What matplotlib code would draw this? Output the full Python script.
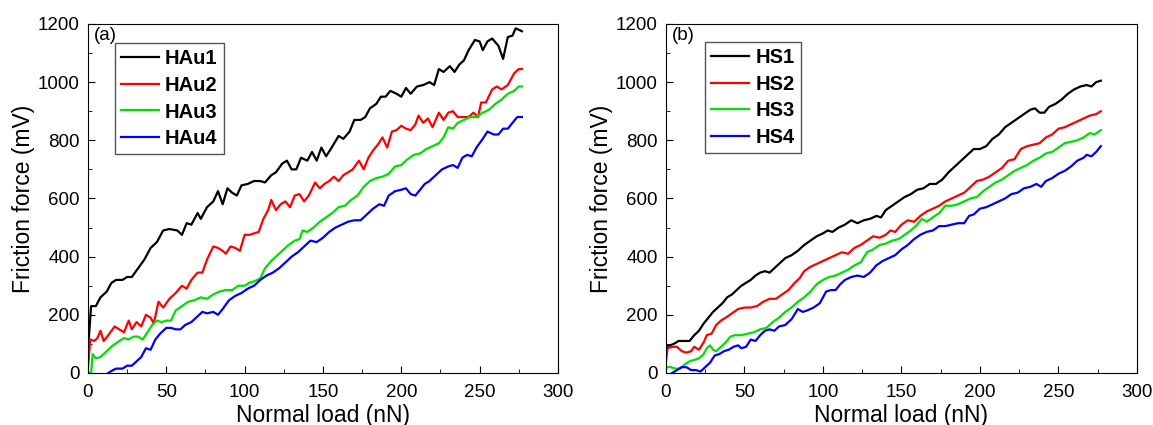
import matplotlib
matplotlib.use('Agg')
import matplotlib.pyplot as plt
from matplotlib.ticker import MultipleLocator

plt.rcParams['font.family'] = ['Liberation Sans', 'DejaVu Sans']

# (a) HAu samples
hau1_x = [0, 2, 5, 8, 12, 15, 18, 22, 25, 28, 32, 36, 40, 44, 48, 52, 57, 60, 63, 66, 70, 72, 76, 80, 83, 86, 89, 92, 95, 98,
          102, 106, 110, 113, 117, 120, 124, 127, 130, 133, 136, 140, 143, 146, 149, 152, 155, 160, 163, 167, 170, 174, 177,
          180, 184, 187, 190, 193, 197, 200, 203, 206, 210, 214, 218, 221, 224, 227, 231, 234, 237, 240, 243, 247, 250, 252,
          255, 258, 262, 265, 268, 271, 273, 277]
hau1_y = [80, 230, 230, 260, 280, 310, 320, 320, 330, 330, 360, 390, 430, 450, 490, 495, 490, 475, 515, 510, 550, 530, 570, 590,
          625, 580, 635, 620, 610, 645, 650, 660, 660, 655, 680, 690, 720, 730, 700, 700, 740, 730, 760, 730, 775, 745, 770,
          815, 805, 830, 870, 870, 880, 910, 925, 950, 950, 970, 960, 950, 980, 960, 985, 990, 1000, 990, 1045, 1035, 1055,
          1035, 1060, 1075, 1110, 1145, 1140, 1110, 1140, 1150, 1125, 1080, 1155, 1160, 1185, 1175]

hau2_x = [0, 1.5, 4, 6, 8, 10, 13, 17, 20, 23, 26, 28, 31, 34, 37, 40, 42, 45, 48, 52, 56, 60, 63, 66, 70, 73, 76, 80, 83, 86,
          88, 91, 94, 97, 100, 103, 106, 109, 112, 115, 117, 120, 123, 126, 129, 132, 135, 138, 141, 145, 148, 151, 154, 157,
          160, 163, 166, 169, 173, 176, 179, 182, 185, 188, 191, 194, 197, 200, 203, 206, 209, 211, 214, 217, 220, 224, 227,
          230, 233, 236, 240, 243, 246, 249, 251, 254, 258, 261, 264, 268, 272, 275, 277]
hau2_y = [20, 115, 110, 120, 145, 110, 130, 160, 150, 140, 180, 150, 175, 160, 200, 190, 170, 245, 225, 255, 275, 300, 290, 320,
          345, 345, 390, 435, 430, 420, 410, 435, 430, 420, 475, 475, 480, 485, 530, 560, 595, 560, 580, 590, 570, 610, 615,
          590, 610, 655, 635, 650, 660, 675, 660, 680, 690, 700, 730, 700, 740, 765, 785, 810, 775, 830, 835, 850, 840, 835,
          855, 885, 860, 875, 845, 895, 870, 895, 900, 880, 880, 880, 895, 880, 930, 930, 975, 985, 975, 990, 1030, 1045, 1045]

hau3_x = [1, 2, 3, 5, 8, 12, 16, 20, 23, 26, 29, 32, 35, 38, 41, 44, 47, 50, 53, 56, 60, 64, 68, 72, 76, 80, 84, 88, 92, 96,
          100, 103, 106, 110, 113, 117, 120, 124, 128, 132, 135, 137, 140, 144, 148, 152, 156, 160, 164, 168, 172, 176, 180,
          184, 188, 192, 196, 200, 204, 208, 212, 216, 220, 224, 227, 230, 233, 236, 240, 244, 248, 252, 256, 260, 264, 268,
          272, 275, 277]
hau3_y = [0, 0, 65, 50, 55, 75, 95, 110, 120, 115, 125, 125, 115, 140, 165, 180, 175, 180, 180, 215, 230, 245, 250, 260, 255,
          270, 280, 285, 285, 300, 300, 310, 315, 325, 360, 385, 400, 420, 440, 455, 460, 490, 485, 500, 520, 535, 550, 570,
          575, 595, 610, 640, 660, 670, 675, 685, 710, 715, 735, 750, 755, 770, 780, 790, 810, 845, 840, 860, 870, 880, 880,
          895, 905, 925, 940, 960, 970, 985, 985]

hau4_x = [13, 16, 18, 22, 25, 28, 31, 34, 37, 40, 43, 46, 50, 53, 56, 59, 62, 66, 70, 73, 76, 80, 83, 86, 90, 94, 98, 102, 106,
          110, 114, 118, 122, 126, 130, 134, 138, 142, 146, 150, 154, 158, 162, 166, 170, 174, 178, 182, 186, 189, 192, 196,
          200, 203, 206, 209, 212, 215, 218, 222, 226, 230, 233, 236, 239, 242, 245, 248, 252, 255, 259, 262, 265, 268, 271,
          274, 277]
hau4_y = [0, 10, 15, 15, 25, 25, 40, 55, 85, 80, 115, 135, 155, 155, 150, 150, 165, 175, 195, 210, 205, 210, 200, 220, 250, 265,
          275, 290, 300, 320, 335, 345, 360, 380, 400, 415, 435, 455, 450, 465, 485, 500, 510, 520, 525, 525, 545, 565, 580,
          575, 610, 625, 630, 635, 615, 610, 630, 650, 660, 680, 700, 710, 715, 705, 740, 750, 745, 775, 805, 830, 820, 820,
          840, 840, 860, 880, 880]

# (b) HS samples
hs1_x = [0, 5, 8, 12, 15, 18, 21, 24, 27, 30, 33, 36, 39, 42, 45, 48, 51, 54, 57, 60, 63, 66, 69, 72, 76, 80, 84, 88, 92, 96,
         100, 103, 106, 110, 114, 118, 122, 126, 130, 134, 137, 140, 144, 148, 152, 156, 160, 164, 168, 172, 176, 180, 184,
         188, 192, 196, 200, 204, 208, 212, 216, 220, 224, 228, 232, 235, 238, 241, 244, 248, 252, 256, 260, 264, 268, 271,
         274, 277]
hs1_y = [90, 100, 110, 110, 110, 130, 145, 170, 190, 210, 225, 240, 260, 270, 285, 300, 310, 320, 335, 345, 350, 345, 360, 375,
         395, 405, 420, 440, 455, 470, 480, 490, 485, 500, 510, 525, 515, 525, 530, 540, 535, 560, 575, 590, 605, 615, 630,
         635, 650, 650, 665, 690, 710, 730, 750, 770, 770, 780, 805, 820, 845, 860, 875, 890, 905, 910, 895, 895, 915, 925,
         940, 960, 975, 985, 990, 985, 1000, 1005]

hs2_x = [0, 1, 4, 7, 10, 13, 16, 18, 21, 24, 26, 29, 32, 35, 38, 42, 46, 50, 54, 58, 62, 66, 70, 74, 78, 82, 85, 88, 92, 96,
         100, 104, 108, 112, 116, 120, 124, 128, 132, 136, 140, 143, 146, 150, 154, 158, 162, 166, 170, 174, 178, 182, 186,
         190, 194, 198, 202, 206, 210, 214, 218, 222, 226, 230, 234, 238, 242, 246, 250, 254, 258, 262, 266, 270, 274, 277]
hs2_y = [40, 85, 90, 90, 75, 70, 75, 90, 80, 105, 130, 135, 165, 180, 190, 205, 220, 225, 225, 230, 245, 255, 255, 270, 285,
         310, 325, 350, 365, 375, 385, 395, 405, 415, 410, 430, 440, 455, 470, 465, 475, 490, 485, 510, 525, 520, 540, 555,
         565, 575, 590, 600, 610, 620, 640, 660, 665, 675, 690, 705, 730, 735, 770, 780, 785, 790, 810, 820, 840, 845, 855,
         865, 875, 885, 890, 900]

hs3_x = [0, 3, 6, 9, 12, 15, 18, 21, 24, 26, 28, 30, 32, 35, 38, 41, 44, 48, 52, 56, 60, 64, 68, 72, 76, 80, 84, 88, 92, 96,
         100, 104, 108, 112, 116, 120, 124, 128, 132, 136, 140, 144, 148, 152, 156, 160, 163, 166, 170, 174, 178, 182, 186,
         190, 194, 198, 202, 206, 210, 214, 218, 222, 226, 230, 234, 238, 242, 246, 250, 254, 258, 262, 266, 270, 273, 277]
hs3_y = [20, 20, 15, 15, 30, 40, 45, 50, 65, 85, 95, 80, 75, 90, 105, 125, 130, 130, 135, 140, 150, 155, 175, 190, 210, 225,
         245, 260, 280, 305, 320, 330, 335, 345, 355, 370, 380, 415, 425, 440, 445, 455, 460, 475, 490, 510, 530, 520, 535,
         550, 575, 575, 580, 590, 600, 605, 625, 640, 655, 665, 680, 695, 705, 715, 730, 740, 755, 760, 775, 790, 795, 800,
         810, 825, 820, 835]

hs4_x = [4, 7, 10, 13, 16, 19, 22, 25, 28, 31, 34, 37, 40, 43, 46, 48, 51, 54, 57, 60, 63, 66, 69, 72, 76, 80, 84, 87, 90, 94,
         98, 102, 105, 108, 111, 114, 118, 122, 126, 130, 134, 138, 142, 146, 150, 154, 158, 162, 166, 170, 174, 178, 182,
         186, 190, 193, 196, 200, 204, 208, 212, 216, 220, 224, 228, 232, 236, 239, 242, 246, 250, 254, 258, 262, 266, 268,
         271, 274, 277]
hs4_y = [0, 10, 20, 20, 10, 10, 5, 20, 35, 60, 65, 75, 80, 90, 95, 85, 90, 115, 110, 130, 145, 150, 145, 160, 165, 185, 220,
         210, 215, 225, 240, 280, 285, 285, 305, 320, 330, 335, 330, 345, 370, 385, 395, 405, 425, 440, 460, 475, 485, 490,
         505, 505, 510, 515, 515, 540, 545, 565, 570, 580, 590, 600, 615, 620, 635, 640, 650, 640, 660, 670, 685, 695, 710,
         730, 740, 750, 745, 760, 780]

colors = ['black', '#ff0000', '#00e000', '#0000ff']

fig = plt.figure(figsize=(11.53, 4.25), dpi=100)
ax1 = fig.add_axes([0.0763, 0.1224, 0.4076, 0.8212])
ax2 = fig.add_axes([0.5776, 0.1224, 0.4085, 0.8212])

panels = [
    (ax1, '(a)', (0.057, 0.945), [(hau1_x, hau1_y, 'HAu1'), (hau2_x, hau2_y, 'HAu2'), (hau3_x, hau3_y, 'HAu3'), (hau4_x, hau4_y, 'HAu4')]),
    (ax2, '(b)', (0.083, 0.948), [(hs1_x, hs1_y, 'HS1'), (hs2_x, hs2_y, 'HS2'), (hs3_x, hs3_y, 'HS3'), (hs4_x, hs4_y, 'HS4')]),
]

for ax, tag, anchor, series in panels:
    for (x, y, name), c in zip(series, colors):
        ax.plot(x, y, color=c, lw=1.6, label=name)
    ax.set_xlim(0, 300)
    ax.set_ylim(0, 1200)
    ax.xaxis.set_major_locator(MultipleLocator(50))
    ax.xaxis.set_minor_locator(MultipleLocator(25))
    ax.yaxis.set_major_locator(MultipleLocator(200))
    ax.yaxis.set_minor_locator(MultipleLocator(100))
    ax.tick_params(which='both', direction='in', top=False, right=False, labelsize=13.5)
    ax.tick_params(which='major', length=5)
    ax.tick_params(axis='x', which='major', pad=8)
    ax.tick_params(axis='y', which='major', pad=6)
    ax.tick_params(which='minor', length=3)
    ax.set_xlabel('Normal load (nN)', fontsize=16.5, labelpad=2)
    ax.set_ylabel('Friction force (mV)', fontsize=16.5, labelpad=2)
    ax.text(0.012, 0.99, tag, transform=ax.transAxes, fontsize=13.5, va='top', ha='left')
    leg = ax.legend(loc='upper left', bbox_to_anchor=anchor, prop={'weight': 'bold', 'size': 14.5},
                    fancybox=False, edgecolor='#555555', framealpha=1, handlelength=1.9,
                    handletextpad=0.3, labelspacing=0.38, borderpad=0.3, borderaxespad=0)
    leg.get_frame().set_linewidth(1.0)

plt.savefig('out.png', dpi=100)
